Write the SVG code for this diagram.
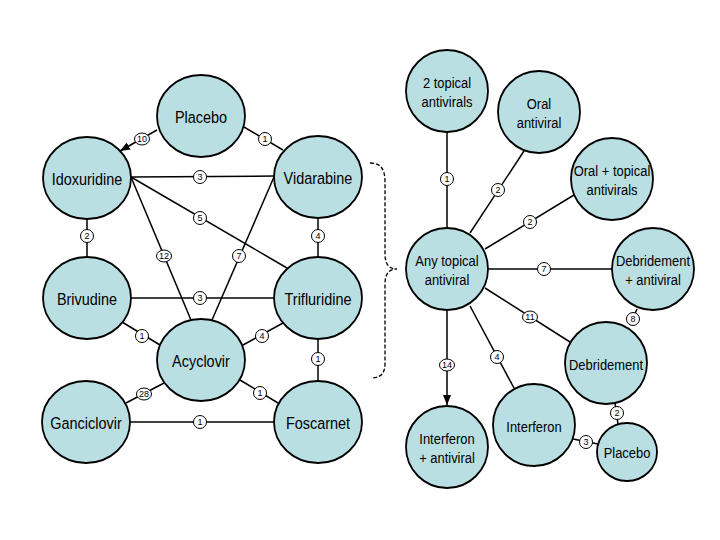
<svg xmlns="http://www.w3.org/2000/svg" width="720" height="540" viewBox="0 0 720 540">
<defs>
<style>
.n{fill:#badfe3;stroke:#000;stroke-width:1.8}
.e{stroke:#000;stroke-width:1.5;fill:none}
.lb{fill:#fff;stroke:#000;stroke-width:1}
.lt{font-family:"Liberation Sans",Arial,sans-serif;font-size:9px;text-anchor:middle;fill:#000}
.tl{font-family:"Liberation Sans",Arial,sans-serif;font-size:17px;text-anchor:middle;fill:#000}
.tr{font-family:"Liberation Sans",Arial,sans-serif;font-size:15.5px;text-anchor:middle;fill:#000}
</style>
<marker id="arr" markerUnits="userSpaceOnUse" markerWidth="10" markerHeight="10" viewBox="0 0 10 10" refX="10" refY="5" orient="auto">
<path d="M0,1 L10,5 L0,9 Z" fill="#000"/>
</marker>
</defs>
<rect width="720" height="540" fill="#fff"/>
<g id="connectors">
<line class="e" x1="157" y1="130" x2="120" y2="151" marker-end="url(#arr)"/>
<line class="e" x1="244" y1="127" x2="283" y2="150"/>
<line class="e" x1="131" y1="177" x2="274" y2="176"/>
<line class="e" x1="131" y1="177" x2="287" y2="268"/>
<line class="e" x1="131" y1="177" x2="191" y2="320"/>
<line class="e" x1="274" y1="177" x2="212" y2="320"/>
<line class="e" x1="87" y1="219" x2="87" y2="257"/>
<line class="e" x1="318" y1="218" x2="318" y2="257"/>
<line class="e" x1="131" y1="298" x2="274" y2="298"/>
<line class="e" x1="122" y1="322" x2="160" y2="345"/>
<line class="e" x1="283" y1="323" x2="243" y2="345"/>
<line class="e" x1="318" y1="339" x2="318" y2="381"/>
<line class="e" x1="164" y1="383" x2="126" y2="403"/>
<line class="e" x1="240" y1="380" x2="278" y2="403"/>
<line class="e" x1="130" y1="422" x2="274" y2="422"/>
<line class="e" x1="447" y1="132" x2="447" y2="228"/>
<line class="e" x1="470" y1="233" x2="524" y2="151"/>
<line class="e" x1="485" y1="249" x2="574" y2="195"/>
<line class="e" x1="488" y1="269" x2="612" y2="269"/>
<line class="e" x1="485" y1="288" x2="570" y2="342"/>
<line class="e" x1="637" y1="309" x2="630" y2="325"/>
<line class="e" x1="470" y1="306" x2="514" y2="388"/>
<line class="e" x1="447" y1="310" x2="447" y2="405" marker-end="url(#arr)"/>
<line class="e" x1="615" y1="403" x2="618" y2="424"/>
<line class="e" x1="573" y1="439" x2="598" y2="444"/>
<path d="M370,163 C380,163 385,168 385,182 L385,254 C385,264 389,269 397,269 C389,269 385,274 385,284 L385,364 C385,374 380,378 371,378" fill="none" stroke="#000" stroke-width="1.3" stroke-dasharray="4,2"/>
<g id="edge-labels">
<ellipse class="lb" cx="142" cy="139" rx="7.5" ry="6"/><text class="lt" x="142" y="142.2">10</text>
<circle class="lb" cx="265" cy="139" r="6.5"/><text class="lt" x="265" y="142.2">1</text>
<circle class="lb" cx="200" cy="177" r="6.5"/><text class="lt" x="200" y="180.2">3</text>
<circle class="lb" cx="200" cy="218" r="6.5"/><text class="lt" x="200" y="221.2">5</text>
<ellipse class="lb" cx="164" cy="256" rx="7.5" ry="6"/><text class="lt" x="164" y="259.2">12</text>
<circle class="lb" cx="239" cy="256" r="6.5"/><text class="lt" x="239" y="259.2">7</text>
<circle class="lb" cx="87" cy="236" r="6.5"/><text class="lt" x="87" y="239.2">2</text>
<circle class="lb" cx="318" cy="236" r="6.5"/><text class="lt" x="318" y="239.2">4</text>
<circle class="lb" cx="200" cy="298" r="6.5"/><text class="lt" x="200" y="301.2">3</text>
<circle class="lb" cx="142" cy="336" r="6.5"/><text class="lt" x="142" y="339.2">1</text>
<circle class="lb" cx="262" cy="336" r="6.5"/><text class="lt" x="262" y="339.2">4</text>
<circle class="lb" cx="318" cy="359" r="6.5"/><text class="lt" x="318" y="362.2">1</text>
<ellipse class="lb" cx="144" cy="394" rx="7.5" ry="6"/><text class="lt" x="144" y="397.2">28</text>
<circle class="lb" cx="260" cy="393" r="6.5"/><text class="lt" x="260" y="396.2">1</text>
<circle class="lb" cx="200" cy="422" r="6.5"/><text class="lt" x="200" y="425.2">1</text>
<circle class="lb" cx="447" cy="179" r="6.5"/><text class="lt" x="447" y="182.2">1</text>
<circle class="lb" cx="498" cy="190" r="6.5"/><text class="lt" x="498" y="193.2">2</text>
<circle class="lb" cx="530" cy="222" r="6.5"/><text class="lt" x="530" y="225.2">2</text>
<circle class="lb" cx="544" cy="269" r="6.5"/><text class="lt" x="544" y="272.2">7</text>
<ellipse class="lb" cx="530" cy="317" rx="7.5" ry="6"/><text class="lt" x="530" y="320.2">11</text>
<circle class="lb" cx="633" cy="319" r="6.5"/><text class="lt" x="633" y="322.2">8</text>
<circle class="lb" cx="497" cy="357" r="6.5"/><text class="lt" x="497" y="360.2">4</text>
<ellipse class="lb" cx="447" cy="365" rx="7.5" ry="6"/><text class="lt" x="447" y="368.2">14</text>
<circle class="lb" cx="617" cy="413" r="6.5"/><text class="lt" x="617" y="416.2">2</text>
<circle class="lb" cx="586" cy="442" r="6.5"/><text class="lt" x="586" y="445.2">3</text>
</g>
</g>
<g id="placebo-left"><ellipse class="n" cx="201" cy="116" rx="44" ry="41"/><text class="tl" transform="translate(201,123) scale(0.85,1)">Placebo</text></g>
<g id="idoxuridine"><ellipse class="n" cx="87" cy="178" rx="44" ry="41"/><text class="tl" transform="translate(87,185) scale(0.85,1)">Idoxuridine</text></g>
<g id="vidarabine"><ellipse class="n" cx="318" cy="177" rx="44" ry="41"/><text class="tl" transform="translate(318,184) scale(0.85,1)">Vidarabine</text></g>
<g id="brivudine"><ellipse class="n" cx="87" cy="298" rx="44" ry="41"/><text class="tl" transform="translate(87,305) scale(0.85,1)">Brivudine</text></g>
<g id="trifluridine"><ellipse class="n" cx="318" cy="298" rx="44" ry="41"/><text class="tl" transform="translate(318,305) scale(0.85,1)">Trifluridine</text></g>
<g id="acyclovir"><ellipse class="n" cx="201" cy="360" rx="44" ry="41"/><text class="tl" transform="translate(201,367) scale(0.85,1)">Acyclovir</text></g>
<g id="ganciclovir"><ellipse class="n" cx="86" cy="422" rx="44" ry="41"/><text class="tl" transform="translate(86,429) scale(0.85,1)">Ganciclovir</text></g>
<g id="foscarnet"><ellipse class="n" cx="318" cy="422" rx="44" ry="41"/><text class="tl" transform="translate(318,429) scale(0.85,1)">Foscarnet</text></g>
<g id="two-topical"><circle class="n" cx="447" cy="91" r="41"/><text class="tr" transform="translate(447,88) scale(0.835,1)"><tspan x="0">2 topical</tspan><tspan x="0" dy="19">antivirals</tspan></text></g>
<g id="oral"><circle class="n" cx="539" cy="112" r="41"/><text class="tr" transform="translate(539,109) scale(0.835,1)"><tspan x="0">Oral</tspan><tspan x="0" dy="19">antiviral</tspan></text></g>
<g id="oral-topical"><circle class="n" cx="612" cy="179" r="41"/><text class="tr" transform="translate(612,176) scale(0.835,1)"><tspan x="0">Oral + topical</tspan><tspan x="0" dy="19">antivirals</tspan></text></g>
<g id="any-topical"><circle class="n" cx="447" cy="269" r="41"/><text class="tr" transform="translate(447,266) scale(0.835,1)"><tspan x="0">Any topical</tspan><tspan x="0" dy="19">antiviral</tspan></text></g>
<g id="debridement-antiviral"><circle class="n" cx="653" cy="269" r="41"/><text class="tr" transform="translate(653,266) scale(0.835,1)"><tspan x="0">Debridement</tspan><tspan x="0" dy="19">+ antiviral</tspan></text></g>
<g id="debridement"><circle class="n" cx="606" cy="363" r="41"/><text class="tr" transform="translate(606,370) scale(0.835,1)">Debridement</text></g>
<g id="interferon-antiviral"><circle class="n" cx="447" cy="447" r="41"/><text class="tr" transform="translate(447,444) scale(0.835,1)"><tspan x="0">Interferon</tspan><tspan x="0" dy="19">+ antiviral</tspan></text></g>
<g id="interferon"><circle class="n" cx="534" cy="425" r="41"/><text class="tr" transform="translate(534,432) scale(0.835,1)">Interferon</text></g>
<g id="placebo-right"><ellipse class="n" cx="627" cy="452" rx="30" ry="29"/><text class="tr" transform="translate(627,458) scale(0.835,1)">Placebo</text></g>
</svg>
